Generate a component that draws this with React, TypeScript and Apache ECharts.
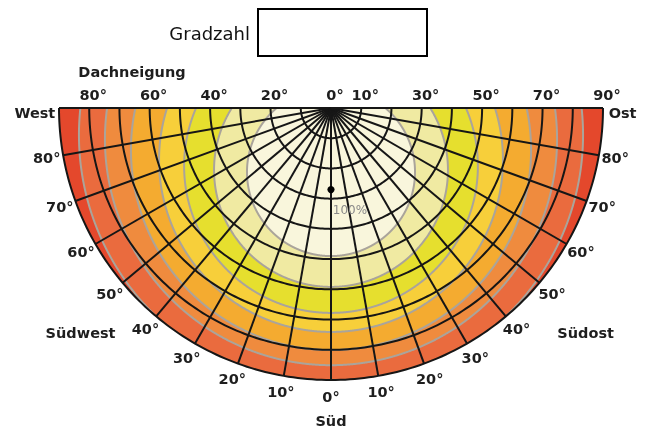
import React, { useEffect, useRef } from "react";
import * as echarts from "echarts";

// Dachneigung (tilt) circles and Ausrichtung (azimuth) spokes; azimuth: negative = West, positive = Ost
const tiltCircles = [10, 20, 30, 40, 50, 60, 70, 80, 90];
const spokeAzimuths = [-90, -80, -70, -60, -50, -40, -30, -20, -10, 0, 10, 20, 30, 40, 50, 60, 70, 80, 90];

// tilt labels along the top edge
const tiltLabelValues = [-80, -60, -40, -20, 0, 10, 30, 50, 70, 90];
const tiltLabelTexts = ["80°", "60°", "40°", "20°", "0°", "10°", "30°", "50°", "70°", "90°"];

// azimuth labels around the rim
const azimuthLabelValues = [-80, -70, -60, -50, -40, -30, -20, -10, 0, 10, 20, 30, 40, 50, 60, 70, 80];
const azimuthLabelTexts = ["80°", "70°", "60°", "50°", "40°", "30°", "20°", "10°", "0°", "10°", "20°", "30°", "40°", "50°", "60°", "70°", "80°"];

// compass names
const compassNames = ["West", "Südwest", "Süd", "Südost", "Ost"];
const compassAzimuths = [-89, -48, 0, 48.5, 89];
const compassDistances = [98, 111.5, 103.5, 112.5, 96.5];

// iso-yield contours (circles): centre tilt towards south, radius (in tilt degrees)
const contourCenterTilt = [21.2, 20.5, 19.2, 17.2, 13.9, 10.3, 8.9];
const contourRadius = [27.8, 38.7, 48.6, 56.9, 66.2, 74.8, 83.4];
// band colours from inside (100%) to outside
const bandColors = ["#f9f6dc", "#f0eaa2", "#e6df2e", "#f7cf3a", "#f4ab30", "#ef8b3e", "#ea6b3e", "#e4482c"];

// optimum point
const optimumTilt = 27;
const optimumAzimuth = 0;
const optimumLabel = "100%";

const MAX_TILT = 90;
const LINE = "#161616";
const CONTOUR = "#aaa49b";
const LABEL_FONT = "DejaVu Sans";

export default function App() {
  const ref = useRef<HTMLDivElement>(null);

  useEffect(() => {
    if (!ref.current) return;
    const chart = echarts.init(ref.current, null, { renderer: "svg" });

    const renderItem = (_params: any, api: any) => {
      const P = (x: number, y: number) => api.coord([x, y]);
      const polar = (t: number, a: number) => {
        const r = (a * Math.PI) / 180;
        return P(t * Math.sin(r), -t * Math.cos(r));
      };
      const children: any[] = [];

      // outer half-disc
      const disc: number[][] = [];
      for (let a = -90; a <= 90; a += 0.5) disc.push(polar(MAX_TILT, a));
      children.push({ type: "polygon", shape: { points: disc }, style: { fill: bandColors[bandColors.length - 1] } });

      // band regions, outer to inner (circle ∩ half-disc)
      const R2 = MAX_TILT * MAX_TILT;
      for (let k = contourRadius.length - 1; k >= 0; k--) {
        const c = contourCenterTilt[k];
        const R = contourRadius[k];
        const pts: number[][] = [];
        for (let i = 0; i < 1440; i++) {
          const phi = (i * Math.PI) / 720;
          const dx = Math.cos(phi), dy = Math.sin(phi);
          let s = R;
          if (dy > 1e-9) s = Math.min(s, c / dy);
          const pd = -c * dy;
          const sr = -pd + Math.sqrt(pd * pd - c * c + R2);
          s = Math.min(s, sr);
          pts.push(P(s * dx, -c + s * dy));
        }
        children.push({ type: "polygon", shape: { points: pts }, style: { fill: bandColors[k] } });
      }

      // gray contour lines (inside half-disc only)
      for (let k = 0; k < contourRadius.length; k++) {
        const c = contourCenterTilt[k];
        const R = contourRadius[k];
        let cur: number[][] = [];
        const N = 2400;
        for (let i = 0; i <= N; i++) {
          const th = Math.PI / 2 + (i * 2 * Math.PI) / N;
          const x = R * Math.cos(th), y = -c + R * Math.sin(th);
          const inside = y <= 0 && x * x + y * y <= R2;
          if (inside) cur.push(P(x, y));
          else if (cur.length) {
            children.push({ type: "polyline", shape: { points: cur }, style: { stroke: CONTOUR, lineWidth: 2, fill: null } });
            cur = [];
          }
        }
        if (cur.length) children.push({ type: "polyline", shape: { points: cur }, style: { stroke: CONTOUR, lineWidth: 2, fill: null } });
      }

      // tilt circles
      tiltCircles.forEach((t) => {
        const pts: number[][] = [];
        for (let a = -90; a <= 90; a += 1) pts.push(polar(t, a));
        children.push({ type: "polyline", shape: { points: pts }, style: { stroke: LINE, lineWidth: 2, fill: null } });
      });

      // azimuth spokes
      spokeAzimuths.forEach((a) => {
        const p0 = polar(0, a);
        const p1 = polar(MAX_TILT, a);
        children.push({ type: "line", shape: { x1: p0[0], y1: p0[1], x2: p1[0], y2: p1[1] }, style: { stroke: LINE, lineWidth: 2 } });
      });

      // optimum point
      const op = polar(optimumTilt, optimumAzimuth);
      children.push({ type: "circle", shape: { cx: op[0], cy: op[1], r: 3.6 }, style: { fill: "#000" } });
      children.push({
        type: "text",
        style: { text: optimumLabel, x: op[0] + 19, y: op[1] + 20, fill: "#8a8a8a", fontSize: 12, fontFamily: LABEL_FONT, align: "center", verticalAlign: "middle" },
      });

      const boldText = (text: string, x: number, y: number) => ({
        type: "text",
        style: { text, x, y, fill: "#1e1e1e", fontSize: 14.5, fontWeight: "bold", fontFamily: LABEL_FONT, align: "center", verticalAlign: "middle" },
      });

      // tilt labels above the top edge
      tiltLabelValues.forEach((v, i) => {
        const p = P(v, 0);
        children.push(boldText(tiltLabelTexts[i], p[0] + 4, p[1] - 13));
      });

      // azimuth labels around the rim
      azimuthLabelValues.forEach((a, i) => {
        const p = polar(95.5, a);
        children.push(boldText(azimuthLabelTexts[i], p[0], p[1]));
      });

      // compass names
      compassNames.forEach((n, i) => {
        const p = polar(compassDistances[i], compassAzimuths[i]);
        children.push(boldText(n, p[0], p[1]));
      });

      return { type: "group", children };
    };

    chart.setOption({
      animation: false,
      grid: { left: 59, top: 108, width: 544, height: 272, containLabel: false },
      xAxis: { type: "value", min: -MAX_TILT, max: MAX_TILT, show: false },
      yAxis: { type: "value", min: -MAX_TILT, max: 0, show: false },
      graphic: [
        {
          type: "text",
          x: 250,
          y: 33,
          style: { text: "Gradzahl", fill: "#111", fontSize: 18, fontFamily: LABEL_FONT, align: "right", verticalAlign: "middle" },
        },
        {
          type: "rect",
          shape: { x: 258, y: 9, width: 169, height: 47 },
          style: { fill: "#fff", stroke: "#000", lineWidth: 2 },
        },
        {
          type: "text",
          x: 132,
          y: 72,
          style: { text: "Dachneigung", fill: "#1e1e1e", fontSize: 14.5, fontWeight: "bold", fontFamily: LABEL_FONT, align: "center", verticalAlign: "middle" },
        },
      ],
      series: [
        {
          type: "custom",
          coordinateSystem: "cartesian2d",
          clip: false,
          silent: true,
          data: [[0, 0]],
          renderItem,
        },
      ],
    });

    return () => chart.dispose();
  }, []);

  return <div ref={ref} style={{ position: "fixed", left: 0, top: 0, width: 651, height: 429 }} />;
}
